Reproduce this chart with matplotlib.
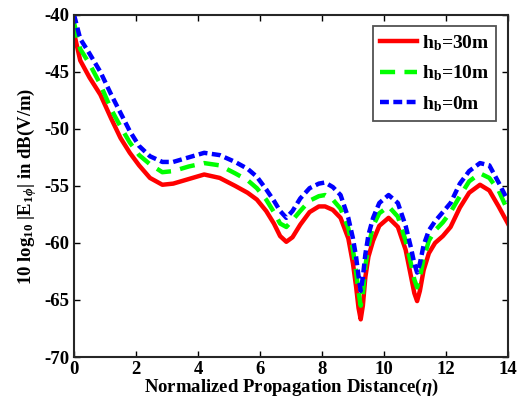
import numpy as np
import matplotlib
matplotlib.use("Agg")
import matplotlib.pyplot as plt

# Field strength vs. normalized distance for three antenna heights
eta = [0, 0.2, 0.5, 0.85, 1.2, 1.5, 1.8, 2.1, 2.45, 2.85, 3.2, 3.7, 4.2, 4.7,
       5.2, 5.6, 5.9, 6.2, 6.45, 6.65, 6.85, 7.05, 7.3, 7.6, 7.9, 8.1, 8.35,
       8.6, 8.85, 9.0, 9.1, 9.18, 9.25, 9.32, 9.4, 9.5, 9.65, 9.85, 10.15,
       10.45, 10.7, 10.87, 10.98, 11.07, 11.16, 11.28, 11.45, 11.65, 11.9,
       12.15, 12.45, 12.75, 13.1, 13.4, 13.7, 14.0]

e_30m = [-41.6, -44.0, -45.5, -47.0, -49.1, -50.8, -52.1, -53.2, -54.3, -54.9,
         -54.8, -54.4, -54.0, -54.3, -55.0, -55.6, -56.2, -57.2, -58.3, -59.4,
         -59.9, -59.5, -58.4, -57.3, -56.8, -56.8, -57.1, -57.8, -59.6, -61.8,
         -63.8, -65.7, -66.7, -65.5, -63.0, -61.2, -59.8, -58.5, -57.8, -58.6,
         -60.6, -62.9, -64.4, -65.1, -64.2, -62.4, -60.9, -60.0, -59.4, -58.6,
         -56.9, -55.6, -54.9, -55.4, -56.8, -58.3]

e_10m = [-40.7, -43.0, -44.3, -46.1, -48.3, -49.8, -51.2, -52.3, -53.1, -53.8,
         -53.7, -53.3, -53.0, -53.2, -53.9, -54.5, -55.2, -56.2, -57.3, -58.3,
         -58.6, -58.0, -57.2, -56.3, -55.9, -55.8, -56.2, -57.0, -58.7, -60.6,
         -62.5, -64.3, -65.5, -64.5, -62.0, -60.3, -58.5, -57.4, -56.8, -57.7,
         -59.8, -61.8, -63.2, -63.9, -63.0, -61.4, -59.8, -58.9, -58.2, -57.3,
         -55.9, -54.6, -53.9, -54.3, -55.4, -57.2]

e_0m = [-40.0, -42.1, -43.4, -45.0, -47.0, -48.6, -50.2, -51.5, -52.4, -52.9,
        -52.9, -52.5, -52.1, -52.3, -52.9, -53.5, -54.2, -55.3, -56.3, -57.2,
        -57.8, -57.2, -56.1, -55.2, -54.8, -54.7, -55.1, -55.8, -57.8, -59.6,
        -61.2, -62.9, -64.2, -63.0, -61.0, -59.3, -57.8, -56.5, -55.8, -56.5,
        -58.5, -60.4, -61.8, -62.6, -61.8, -60.2, -58.9, -58.1, -57.3, -56.5,
        -54.8, -53.7, -53.0, -53.2, -54.7, -56.3]

labels = [r"h$_\mathbf{b}$=30m", r"h$_\mathbf{b}$=10m", r"h$_\mathbf{b}$=0m"]
xticks = [0, 2, 4, 6, 8, 10, 12, 14]
yticks = [-70, -65, -60, -55, -50, -45, -40]

plt.rcParams["font.family"] = ["Liberation Serif", "DejaVu Serif"]
plt.rcParams["font.weight"] = "bold"
plt.rcParams["axes.unicode_minus"] = False
plt.rcParams["mathtext.fontset"] = "custom"
plt.rcParams["mathtext.rm"] = "Liberation Serif:bold"
plt.rcParams["mathtext.it"] = "Liberation Serif:bold:italic"
plt.rcParams["mathtext.bf"] = "Liberation Serif:bold"

fig = plt.figure(figsize=(5.22, 4.0), dpi=100)
ax = fig.add_axes([0.1418, 0.1075, 0.8312, 0.8555])

style = dict(lw=3.2, solid_joinstyle="round", dash_joinstyle="round")
ax.plot(eta, e_30m, color="#ff0000", ls="-", label=labels[0], **style)
ax.plot(eta, e_10m, color="#00ff00", ls=(0, (3.4, 2.1)), label=labels[1], **style)
ax.plot(eta, e_0m, color="#0000ff", ls=(0, (2.0, 1.0)), label=labels[2], **style)

ax.set_xlim(0, 14)
ax.set_ylim(-70, -40)
ax.set_xticks(xticks)
ax.set_yticks(yticks)
ax.tick_params(direction="in", top=True, right=True, length=4, width=1,
               labelsize=13.5, pad=3)
for lbl in ax.get_xticklabels() + ax.get_yticklabels():
    lbl.set_fontweight("bold")
for sp in ax.spines.values():
    sp.set_linewidth(1.5)
    sp.set_color("#262626")

ax.set_xlabel(r"Normalized Propagation Distance($\mathit{\eta}$)",
              fontsize=13.5, fontweight="bold", labelpad=-1)
ax.set_ylabel(r"10 log$_{10}$ |E$_{1\mathit{\phi}}$| in dB(V/m)",
              fontsize=13.5, fontweight="bold", labelpad=4)

leg = ax.legend(loc="upper right", fontsize=14, frameon=True, fancybox=False,
                edgecolor="#262626", handlelength=1.9, borderaxespad=0.6,
                labelspacing=0.55, handletextpad=0.25, borderpad=0.35)
leg.get_frame().set_linewidth(1.3)

fig.savefig("out.png", dpi=100)
